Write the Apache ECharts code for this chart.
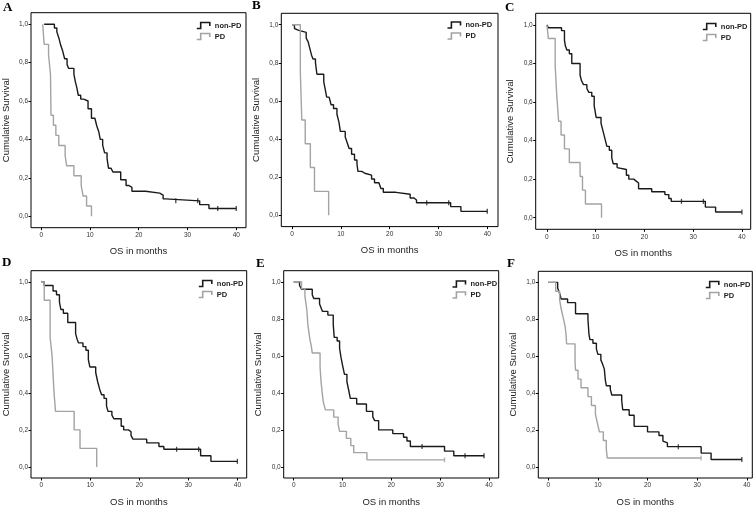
<!DOCTYPE html>
<html>
<head>
<meta charset="utf-8">
<script src="https://cdn.jsdelivr.net/npm/echarts@6/dist/echarts.min.js"></script>
<style>html,body{margin:0;padding:0;background:#fff}#c{width:756px;height:508px}</style>
</head>
<body>
<div id="c"></div>
<script>
// ---------- DATA (time in months, cumulative survival) ----------
const xTicks = [0, 10, 20, 30, 40];
const yTicks = [0, 0.2, 0.4, 0.6, 0.8, 1.0];
const panelLetters = ['A', 'B', 'C', 'D', 'E', 'F'];
const seriesNames = ['non-PD', 'PD'];

const A_nonPD = [[0.6,1],[2.7,0.98],[3.2,0.96],[3.6,0.93],[4.0,0.89],[4.4,0.86],[4.8,0.82],[5.3,0.79],[5.6,0.77],[6.7,0.74],[7.0,0.70],[7.3,0.67],[7.6,0.63],[8.1,0.61],[8.7,0.60],[9.6,0.56],[10.3,0.51],[11.0,0.50],[11.4,0.47],[11.8,0.44],[12.1,0.40],[12.6,0.37],[13.0,0.33],[13.5,0.30],[13.8,0.25],[14.3,0.24],[14.7,0.23],[16.3,0.19],[17.4,0.16],[18.0,0.15],[18.6,0.13],[21.4,0.12],[24.3,0.11],[25.0,0.09],[25.5,0.08],[32.5,0.06],[34.4,0.04],[40,0.04]];
const A_PD = [[0.3,1],[0.6,0.895],[1.5,0.842],[1.9,0.737],[2.0,0.526],[2.5,0.474],[3.0,0.421],[3.6,0.368],[4.9,0.316],[5.2,0.263],[6.7,0.211],[8.2,0.158],[8.6,0.105],[9.3,0.053],[10.3,0]];
const A_censNonPD = [[27.6,0.08],[32.1,0.08],[36.2,0.04],[40,0.04]];
const A_censPD = [];

const B_nonPD = [[0,1],[0.5,0.98],[0.9,0.97],[1.4,0.96],[2.9,0.93],[3.3,0.91],[3.6,0.88],[4.0,0.84],[4.3,0.82],[4.8,0.80],[5.1,0.74],[6.5,0.70],[6.8,0.66],[7.1,0.62],[7.6,0.61],[8.0,0.58],[8.5,0.56],[9.2,0.53],[9.6,0.49],[9.9,0.44],[10.9,0.41],[11.3,0.38],[11.7,0.35],[12.2,0.32],[12.8,0.29],[13.3,0.27],[13.5,0.23],[14.3,0.22],[14.9,0.21],[16.3,0.19],[16.9,0.17],[17.8,0.16],[18.2,0.14],[18.7,0.12],[21.3,0.11],[24.2,0.09],[25.0,0.08],[25.5,0.065],[32.5,0.045],[34.6,0.02],[40,0.02]];
const B_PD = [[0,1],[1.7,0.75],[2.0,0.5],[2.7,0.375],[3.75,0.25],[4.6,0.125],[7.5,0]];
const B_censNonPD = [[27.6,0.065],[32.1,0.065],[40,0.02]];
const B_censPD = [];

const C_nonPD = [[0,1],[0.3,0.985],[3.0,0.97],[3.6,0.92],[3.8,0.89],[4.1,0.87],[4.6,0.85],[5.1,0.80],[6.8,0.74],[7.1,0.71],[7.5,0.69],[8.2,0.67],[8.6,0.65],[9.2,0.63],[9.7,0.58],[10.1,0.52],[11.1,0.49],[11.5,0.45],[11.9,0.41],[12.3,0.37],[12.8,0.35],[13.3,0.31],[13.6,0.28],[14.4,0.26],[14.8,0.25],[16.3,0.22],[16.8,0.20],[17.8,0.19],[18.3,0.18],[18.8,0.15],[21.5,0.135],[24.2,0.12],[25.0,0.10],[25.5,0.085],[32.5,0.055],[34.6,0.03],[40,0.03]];
const C_PD = [[0,1],[0.3,0.929],[1.7,0.786],[2.0,0.643],[2.4,0.5],[2.9,0.429],[3.6,0.357],[4.6,0.286],[6.8,0.214],[7.3,0.143],[7.9,0.071],[11.2,0]];
const C_censNonPD = [[27.6,0.085],[32.1,0.085],[40,0.03]];
const C_censPD = [];

const D_nonPD = [[0,1],[0.6,0.98],[2.4,0.95],[3.1,0.93],[3.7,0.89],[4.0,0.85],[4.5,0.83],[5.4,0.78],[7.0,0.72],[7.3,0.69],[7.6,0.67],[8.5,0.65],[9.1,0.63],[9.6,0.58],[9.9,0.54],[11.1,0.51],[11.5,0.46],[11.9,0.42],[12.3,0.39],[12.8,0.37],[13.3,0.33],[13.6,0.30],[14.4,0.28],[14.8,0.26],[16.3,0.22],[16.8,0.20],[17.8,0.19],[18.3,0.17],[18.7,0.15],[21.5,0.13],[24.0,0.11],[25.0,0.095],[32.5,0.06],[34.6,0.03],[40,0.03]];
const D_PD = [[0,1],[0.6,0.9],[1.8,0.7],[2.2,0.6],[2.6,0.4],[2.9,0.3],[6.7,0.2],[7.9,0.1],[11.3,0]];
const D_censNonPD = [[27.6,0.095],[32.1,0.095],[40,0.03]];
const D_censPD = [];

const E_nonPD = [[0,1],[1.2,0.98],[1.6,0.96],[3.8,0.93],[4.1,0.91],[5.3,0.88],[5.6,0.86],[5.9,0.84],[7.0,0.82],[8.1,0.77],[8.3,0.70],[8.9,0.68],[9.4,0.64],[9.7,0.59],[10.0,0.55],[10.4,0.50],[10.9,0.46],[11.3,0.41],[11.6,0.37],[12.9,0.34],[14.9,0.30],[16.2,0.27],[16.6,0.25],[17.4,0.20],[20.3,0.18],[22.5,0.16],[23.2,0.14],[23.9,0.11],[30.9,0.085],[32.8,0.06],[39,0.06]];
const E_PD = [[0,1],[1.6,0.962],[2.3,0.923],[2.5,0.885],[2.7,0.846],[2.9,0.769],[3.1,0.731],[3.3,0.692],[3.6,0.654],[3.8,0.615],[5.4,0.538],[5.6,0.462],[5.9,0.385],[6.1,0.346],[6.5,0.308],[8.2,0.269],[9.1,0.231],[9.4,0.192],[10.8,0.154],[11.7,0.115],[12.3,0.077],[15.0,0.038],[30.9,0.038]];
const E_censNonPD = [[26.3,0.11],[35.1,0.06],[39,0.06]];
const E_censPD = [[30.9,0.038]];

const F_nonPD = [[0,1],[1.9,0.97],[2.3,0.94],[2.6,0.91],[3.9,0.89],[5.5,0.83],[8.0,0.80],[8.2,0.72],[8.4,0.69],[9.0,0.67],[9.7,0.64],[10.0,0.61],[10.6,0.58],[10.9,0.56],[11.3,0.53],[11.5,0.47],[11.7,0.44],[12.5,0.42],[12.8,0.39],[14.8,0.36],[15.0,0.31],[16.3,0.28],[17.3,0.22],[20.0,0.19],[22.3,0.17],[23.1,0.14],[23.5,0.13],[24.0,0.11],[30.8,0.075],[32.8,0.04],[39,0.04]];
const F_PD = [[0,1],[1.5,0.952],[2.3,0.905],[2.6,0.857],[3.0,0.81],[3.4,0.762],[3.6,0.714],[3.7,0.667],[5.4,0.571],[5.5,0.524],[6.0,0.476],[6.6,0.429],[8.0,0.381],[8.7,0.333],[9.5,0.286],[9.9,0.238],[10.3,0.19],[11.1,0.143],[11.7,0.095],[11.9,0.048],[30.8,0.048]];
const F_censNonPD = [[26.2,0.11],[39,0.04]];
const F_censPD = [[30.8,0.048]];

const nonPDData = [A_nonPD, B_nonPD, C_nonPD, D_nonPD, E_nonPD, F_nonPD];
const pdData = [A_PD, B_PD, C_PD, D_PD, E_PD, F_PD];
const censNonPDData = [A_censNonPD, B_censNonPD, C_censNonPD, D_censNonPD, E_censNonPD, F_censNonPD];
const censPDData = [A_censPD, B_censPD, C_censPD, D_censPD, E_censPD, F_censPD];

// ---------- LAYOUT ----------
const gridBoxes = [
  [31, 12.7, 215, 215],
  [281.3, 13.3, 216.7, 213.3],
  [535.7, 13.3, 215, 216],
  [31, 270.7, 215.7, 213.3],
  [283.7, 270.7, 215, 213.3],
  [538.3, 271.3, 214, 212.7]
];
const xRanges = [[-2.1,42],[-2.2,42.2],[-2.3,41.8],[-2.1,41.9],[-2.05,42],[-2.0,41.1]];
const legendPos = [[196,21.5],[446.7,21],[702,22.5],[198,279.5],[451.7,280],[705,280.5]];
const letterPos = [[3,1],[252,-1],[505,1],[2,256],[256,257],[507,257]];

const BLACK = '#1a1a1a', GRAY = '#a3a3a3';
const LEG_COLORS = [BLACK, GRAY];

const grid = [], xAxis = [], yAxis = [], series = [], legend = [], graphic = [];
gridBoxes.forEach((b, i) => {
  grid.push({left: b[0], top: b[1], width: b[2], height: b[3], show: true, borderColor: '#000', borderWidth: 1, backgroundColor: 'transparent'});
  xAxis.push({
    type: 'value', gridIndex: i, min: xRanges[i][0], max: xRanges[i][1], position: 'bottom',
    name: 'OS in months', nameLocation: 'middle', nameGap: 19,
    nameTextStyle: {fontFamily: 'Liberation Sans, Arial', fontSize: 9.5, color: '#222'},
    axisLine: {show: false, onZero: false},
    axisTick: {show: true, length: 2.5, inside: false, customValues: xTicks, lineStyle: {color: '#000', width: 1}},
    axisLabel: {customValues: xTicks, fontSize: 6.5, color: '#333', margin: 4, fontFamily: 'Liberation Sans, Arial'},
    splitLine: {show: false}
  });
  yAxis.push({
    type: 'value', gridIndex: i, min: -0.06, max: 1.06, position: 'left',
    name: 'Cumulative Survival', nameLocation: 'middle', nameGap: 20, nameRotate: 90,
    nameTextStyle: {fontFamily: 'Liberation Sans, Arial', fontSize: 9.5, color: '#222'},
    axisLine: {show: false, onZero: false},
    axisTick: {show: true, length: 2.5, inside: false, customValues: yTicks, lineStyle: {color: '#000', width: 1}},
    axisLabel: {customValues: yTicks, fontSize: 6.5, color: '#333', margin: 3, fontFamily: 'Liberation Sans, Arial',
      formatter: v => v.toFixed(1).replace('.', ',')},
    splitLine: {show: false}
  });
  series.push({
    name: seriesNames[0], type: 'line', step: 'end', xAxisIndex: i, yAxisIndex: i,
    data: nonPDData[i], showSymbol: false, silent: true, animation: false,
    lineStyle: {color: BLACK, width: 1.4}, itemStyle: {color: BLACK}
  });
  series.push({
    name: seriesNames[1], type: 'line', step: 'end', xAxisIndex: i, yAxisIndex: i,
    data: pdData[i], showSymbol: false, silent: true, animation: false,
    lineStyle: {color: GRAY, width: 1.4}, itemStyle: {color: GRAY}
  });
  series.push({
    name: 'censNonPD' + i, type: 'scatter', xAxisIndex: i, yAxisIndex: i, data: censNonPDData[i],
    symbol: 'rect', symbolSize: [1.3, 5], itemStyle: {color: BLACK}, silent: true, animation: false
  });
  if (censPDData[i].length) series.push({
    name: 'censPD' + i, type: 'scatter', xAxisIndex: i, yAxisIndex: i, data: censPDData[i],
    symbol: 'rect', symbolSize: [1.3, 5], itemStyle: {color: GRAY}, silent: true, animation: false
  });
  legend.push({
    data: seriesNames.map((n, k) => ({
      name: n,
      icon: 'path://M0,10 L3,10 L3,0 L10,0 L10,6',
      itemStyle: {color: 'rgba(0,0,0,0)', borderColor: LEG_COLORS[k], borderWidth: 1.6}
    })),
    orient: 'vertical', left: legendPos[i][0], top: legendPos[i][1],
    itemWidth: 13, itemHeight: 6, itemGap: 3, padding: 0, selectedMode: false, symbolKeepAspect: false,
    textStyle: {fontSize: 7.5, fontWeight: 'bold', color: '#222', fontFamily: 'Liberation Sans, Arial'}
  });
  graphic.push({
    type: 'text', left: letterPos[i][0], top: letterPos[i][1],
    style: {text: panelLetters[i], font: 'bold 13px "Liberation Serif", "Times New Roman", serif', fill: '#000'}
  });
});

const chart = echarts.init(document.getElementById('c'), null, {renderer: 'canvas'});
chart.setOption({backgroundColor: '#fff', animation: false, grid, xAxis, yAxis, series, legend, graphic});
</script>
</body>
</html>
